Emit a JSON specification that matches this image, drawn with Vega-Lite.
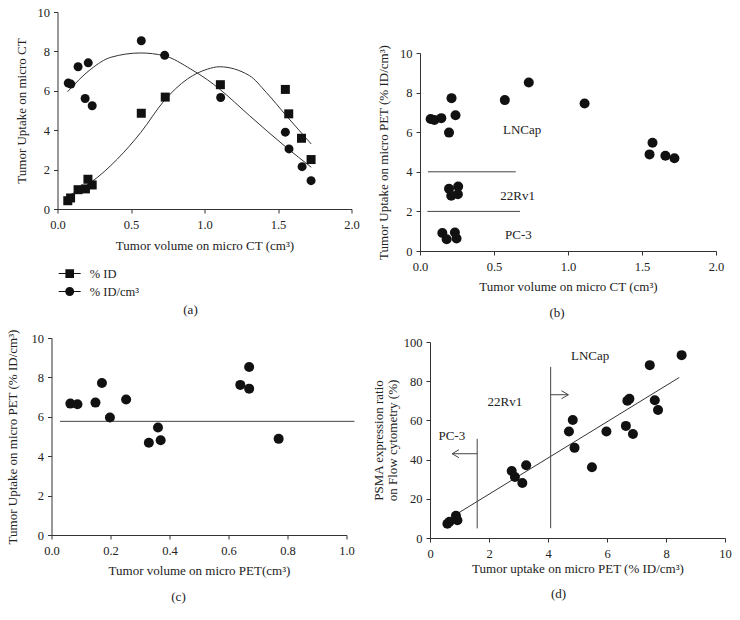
{
  "$schema": "https://vega.github.io/schema/vega-lite/v6.json",
  "autosize": {"type": "pad"},
  "padding": {"left": 5.5, "top": 6, "right": 5, "bottom": 5},
  "background": "white",
  "config": {
    "font": "Liberation Serif",
    "view": {"stroke": null},
    "concat": {"spacing": 0},
    "axis": {
      "grid": false, "labelFlush": false, "labelFont": "Liberation Serif", "titleFont": "Liberation Serif",
      "labelFontSize": 12.5, "titleFontSize": 13, "titleFontWeight": "normal",
      "domainColor": "#333", "tickColor": "#333", "labelColor": "#222", "titleColor": "#222",
      "tickSize": 4, "domainWidth": 1, "tickWidth": 1
    },
    "axisX": {"labelPadding": 5, "titlePadding": 8},
    "axisY": {"labelPadding": 4, "titlePadding": 12},
    "title": {"font": "Liberation Serif", "fontSize": 13, "fontWeight": "normal", "color": "#222", "orient": "bottom", "anchor": "middle"},
    "text": {"font": "Liberation Serif", "fontSize": 13, "color": "#222"}
  },
  "datasets": {
    "a_obs": [
      {"s":"% ID","x":0.07,"y":0.42},{"s":"% ID","x":0.089,"y":0.56},{"s":"% ID","x":0.14,"y":0.98},{"s":"% ID","x":0.19,"y":1.02},{"s":"% ID","x":0.207,"y":1.51},{"s":"% ID","x":0.236,"y":1.22},{"s":"% ID","x":0.57,"y":4.86},{"s":"% ID","x":0.733,"y":5.68},{"s":"% ID","x":1.108,"y":6.31},{"s":"% ID","x":1.55,"y":6.07},{"s":"% ID","x":1.573,"y":4.83},{"s":"% ID","x":1.66,"y":3.59},{"s":"% ID","x":1.725,"y":2.51},
      {"s":"% ID/cm³","x":0.073,"y":6.39},{"s":"% ID/cm³","x":0.091,"y":6.34},{"s":"% ID/cm³","x":0.14,"y":7.22},{"s":"% ID/cm³","x":0.209,"y":7.42},{"s":"% ID/cm³","x":0.188,"y":5.61},{"s":"% ID/cm³","x":0.236,"y":5.24},{"s":"% ID/cm³","x":0.57,"y":8.54},{"s":"% ID/cm³","x":0.729,"y":7.8},{"s":"% ID/cm³","x":1.11,"y":5.66},{"s":"% ID/cm³","x":1.55,"y":3.9},{"s":"% ID/cm³","x":1.575,"y":3.05},{"s":"% ID/cm³","x":1.664,"y":2.15},{"s":"% ID/cm³","x":1.725,"y":1.44}
    ],
    "a_fit": [
      {"s":"% ID/cm³","x":0.068,"y":5.95},{"s":"% ID/cm³","x":0.227,"y":7.1},{"s":"% ID/cm³","x":0.363,"y":7.7},{"s":"% ID/cm³","x":0.567,"y":7.92},{"s":"% ID/cm³","x":0.726,"y":7.78},{"s":"% ID/cm³","x":0.907,"y":7.1},{"s":"% ID/cm³","x":1.02,"y":6.56},{"s":"% ID/cm³","x":1.102,"y":6.09},{"s":"% ID/cm³","x":1.306,"y":4.74},{"s":"% ID/cm³","x":1.556,"y":3.13},{"s":"% ID/cm³","x":1.726,"y":2.12},
      {"s":"% ID","x":0.068,"y":0.65},{"s":"% ID","x":0.227,"y":1.35},{"s":"% ID","x":0.408,"y":2.54},{"s":"% ID","x":0.567,"y":3.89},{"s":"% ID","x":0.726,"y":5.5},{"s":"% ID","x":0.884,"y":6.6},{"s":"% ID","x":1.02,"y":7.1},{"s":"% ID","x":1.102,"y":7.22},{"s":"% ID","x":1.306,"y":6.77},{"s":"% ID","x":1.42,"y":5.92},{"s":"% ID","x":1.556,"y":4.74},{"s":"% ID","x":1.726,"y":3.3}
    ],
    "b_pts": [
      {"x":0.072,"y":6.67},{"x":0.097,"y":6.62},{"x":0.144,"y":6.71},{"x":0.213,"y":7.72},{"x":0.196,"y":5.98},{"x":0.24,"y":6.86},{"x":0.573,"y":7.62},{"x":0.735,"y":8.51},{"x":1.112,"y":7.45},{"x":1.551,"y":4.88},{"x":1.571,"y":5.47},{"x":1.658,"y":4.81},{"x":1.719,"y":4.68},
      {"x":0.196,"y":3.14},{"x":0.211,"y":2.79},{"x":0.258,"y":3.26},{"x":0.256,"y":2.87},
      {"x":0.151,"y":0.91},{"x":0.18,"y":0.59},{"x":0.236,"y":0.93},{"x":0.247,"y":0.63}
    ],
    "b_rules": [{"x":0.054,"x2":0.647,"y":4},{"x":0.05,"x2":0.676,"y":2}],
    "b_txt": [{"x":0.69,"y":6.11,"t":"LNCap"},{"x":0.66,"y":2.79,"t":"22Rv1"},{"x":0.665,"y":0.81,"t":"PC-3"}],
    "c_pts": [
      {"x":0.064,"y":6.67},{"x":0.088,"y":6.64},{"x":0.149,"y":6.72},{"x":0.171,"y":7.72},{"x":0.198,"y":5.96},{"x":0.253,"y":6.88},{"x":0.33,"y":4.68},{"x":0.361,"y":5.46},{"x":0.37,"y":4.81},{"x":0.64,"y":7.62},{"x":0.67,"y":8.53},{"x":0.67,"y":7.43},{"x":0.77,"y":4.88}
    ],
    "c_rule": [{"x":0.029,"x2":1.027,"y":5.77}],
    "d_pts": [
      {"x":0.59,"y":7.3},{"x":0.66,"y":8.3},{"x":0.88,"y":11.3},{"x":0.93,"y":9.1},
      {"x":2.77,"y":34.2},{"x":2.88,"y":31.1},{"x":3.13,"y":28.1},{"x":3.26,"y":37.1},
      {"x":4.71,"y":54.3},{"x":4.84,"y":60.2},{"x":4.9,"y":46},{"x":5.49,"y":36.1},{"x":5.98,"y":54.3},{"x":6.64,"y":57.2},{"x":6.69,"y":70},{"x":6.76,"y":71},{"x":6.88,"y":53.1},{"x":7.45,"y":88.2},{"x":7.62,"y":70.3},{"x":7.73,"y":65.3},{"x":8.53,"y":93.3}
    ],
    "d_fit": [{"x":0.75,"y":10.8},{"x":8.45,"y":81.9}],
    "d_vl": [{"x":1.6,"y":4.9,"y2":50.6},{"x":4.09,"y":5,"y2":87.3}],
    "d_arr": [{"x":1.6,"x2":0.75,"y":43,"dir":"left"},{"x":4.09,"x2":4.69,"y":73.1,"dir":"right"}],
    "d_txt": [{"x":0.74,"y":51.9,"t":"PC-3"},{"x":2.54,"y":69.2,"t":"22Rv1"},{"x":5.43,"y":92.9,"t":"LNCap"}]
  },
  "bounds": "full",
  "spacing": 12.5,
  "hconcat": [
    {
      "bounds": "full",
      "spacing": 12,
      "vconcat": [
        {
          "bounds": "flush",
          "spacing": 0,
          "hconcat": [
            {"width": 5.5, "height": 1, "data": {"values": [{"z": 1}]}, "mark": {"type": "point", "opacity": 0}},
            {
              "width": 294, "height": 197,
              "title": {"text": "(a)", "dx": -14, "offset": 51},
              "encoding": {
                "x": {"field": "x", "type": "quantitative", "scale": {"domain": [0, 2], "nice": false},
                      "axis": {"title": "Tumor volume on micro CT (cm³)", "values": [0, 0.5, 1, 1.5, 2], "format": ".1f", "titlePadding": 9}},
                "y": {"field": "y", "type": "quantitative", "scale": {"domain": [0, 10], "nice": false},
                      "axis": {"title": "Tumor Uptake on micro CT", "values": [0, 2, 4, 6, 8, 10], "titlePadding": 9}}
              },
              "layer": [
                {
                  "data": {"name": "a_fit"},
                  "mark": {"type": "line", "interpolate": "monotone", "color": "#333", "strokeWidth": 1},
                  "encoding": {"detail": {"field": "s"}}
                },
                {
                  "data": {"name": "a_obs"},
                  "transform": [{"filter": "datum.s === '% ID'"}],
                  "mark": {"type": "point", "shape": "square", "filled": true, "opacity": 1, "color": "#111", "size": 81}
                },
                {
                  "data": {"name": "a_obs"},
                  "transform": [{"filter": "datum.s !== '% ID'"}],
                  "mark": {"type": "point", "shape": "circle", "filled": true, "opacity": 1, "color": "#111", "size": 81}
                },
                {
                  "data": {"name": "a_obs"},
                  "mark": {"type": "point", "filled": true, "color": "#111", "opacity": 0},
                  "encoding": {
                    "shape": {
                      "field": "s", "type": "nominal",
                      "scale": {"domain": ["% ID", "% ID/cm³"], "range": ["M-1.22,-0.055H1.22V0.055H-1.22ZM-0.48,-0.48H0.48V0.48H-0.48Z", "M-1.22,-0.055H1.22V0.055H-1.22ZM0.5,0A0.5,0.5,0,1,1,-0.5,0A0.5,0.5,0,1,1,0.5,0Z"]},
                      "legend": {
                        "orient": "none", "legendX": 8.2, "legendY": 251.6, "direction": "vertical", "title": null,
                        "symbolSize": 324, "symbolOpacity": 1, "symbolFillColor": "#111",
                        "labelFont": "Liberation Serif", "labelFontSize": 12.5, "labelColor": "#222",
                        "labelOffset": 10, "rowPadding": 0
                      }
                    }
                  }
                }
              ]
            }
          ]
        },
        {
          "width": 295, "height": 197,
          "title": {"text": "(c)", "dx": -20.5, "offset": 13},
          "encoding": {
            "x": {"field": "x", "type": "quantitative", "scale": {"domain": [0, 1], "nice": false},
                  "axis": {"title": "Tumor volume on micro PET(cm³)", "values": [0, 0.2, 0.4, 0.6, 0.8, 1], "format": ".1f"}},
            "y": {"field": "y", "type": "quantitative", "scale": {"domain": [0, 10], "nice": false},
                  "axis": {"title": "Tumor Uptake on micro PET (% ID/cm³)", "values": [0, 2, 4, 6, 8, 10], "titlePadding": 12}}
          },
          "layer": [
            {
              "data": {"name": "c_rule"},
              "mark": {"type": "rule", "color": "#444", "strokeWidth": 1},
              "encoding": {"x2": {"field": "x2"}}
            },
            {
              "data": {"name": "c_pts"},
              "mark": {"type": "point", "shape": "circle", "filled": true, "opacity": 1, "color": "#111", "size": 100}
            }
          ]
        }
      ]
    },
    {
      "bounds": "full",
      "spacing": 0,
      "vconcat": [
        {"width": 1, "height": 32, "data": {"values": [{"z": 1}]}, "mark": {"type": "point", "opacity": 0}},
        {
          "width": 296, "height": 198,
          "title": {"text": "(b)", "dx": -11, "offset": 13},
          "encoding": {
            "x": {"field": "x", "type": "quantitative", "scale": {"domain": [0, 2], "nice": false},
                  "axis": {"title": "Tumor volume on micro CT (cm³)", "values": [0, 0.5, 1, 1.5, 2], "format": ".1f"}},
            "y": {"field": "y", "type": "quantitative", "scale": {"domain": [0, 10], "nice": false},
                  "axis": {"title": "Tumor Uptake on micro PET (% ID/cm³)", "values": [0, 2, 4, 6, 8, 10], "titlePadding": 9}}
          },
          "layer": [
            {
              "data": {"name": "b_rules"},
              "mark": {"type": "rule", "color": "#444", "strokeWidth": 1},
              "encoding": {"x2": {"field": "x2"}}
            },
            {
              "data": {"name": "b_pts"},
              "mark": {"type": "point", "shape": "circle", "filled": true, "opacity": 1, "color": "#111", "size": 100}
            },
            {
              "data": {"name": "b_txt"},
              "mark": {"type": "text", "align": "center", "baseline": "middle"},
              "encoding": {"text": {"field": "t"}}
            }
          ]
        },
        {"width": 1, "height": 16, "data": {"values": [{"z": 1}]}, "mark": {"type": "point", "opacity": 0}},
        {
          "bounds": "flush",
          "spacing": 0,
          "hconcat": [
            {"width": 10, "height": 1, "data": {"values": [{"z": 1}]}, "mark": {"type": "point", "opacity": 0}},
            {
              "width": 295, "height": 196,
              "title": {"text": "(d)", "dx": -19, "offset": 12},
              "encoding": {
                "x": {"field": "x", "type": "quantitative", "scale": {"domain": [0, 10], "nice": false},
                      "axis": {"title": "Tumor uptake on micro PET (% ID/cm³)", "values": [0, 2, 4, 6, 8, 10], "titlePadding": 3}},
                "y": {"field": "y", "type": "quantitative", "scale": {"domain": [0, 100], "nice": false},
                      "axis": {"title": ["PSMA expression ratio", "on Flow cytometry (%)"], "titleLineHeight": 14, "titlePadding": 4, "values": [0, 20, 40, 60, 80, 100]}}
              },
              "layer": [
                {
                  "data": {"name": "d_fit"},
                  "mark": {"type": "line", "color": "#333", "strokeWidth": 1}
                },
                {
                  "data": {"name": "d_vl"},
                  "mark": {"type": "rule", "color": "#444", "strokeWidth": 1},
                  "encoding": {"y2": {"field": "y2"}}
                },
                {
                  "data": {"name": "d_arr"},
                  "mark": {"type": "rule", "color": "#444", "strokeWidth": 1},
                  "encoding": {"x2": {"field": "x2"}}
                },
                {
                  "data": {"name": "d_arr"},
                  "transform": [{"filter": "datum.dir === 'left'"}],
                  "mark": {"type": "point", "shape": "M1.7,-1L0,0L1.7,1", "filled": false, "opacity": 1, "color": "#444", "strokeWidth": 1, "size": 64},
                  "encoding": {"x": {"field": "x2", "type": "quantitative"}}
                },
                {
                  "data": {"name": "d_arr"},
                  "transform": [{"filter": "datum.dir === 'right'"}],
                  "mark": {"type": "point", "shape": "M-1.7,-1L0,0L-1.7,1", "filled": false, "opacity": 1, "color": "#444", "strokeWidth": 1, "size": 64},
                  "encoding": {"x": {"field": "x2", "type": "quantitative"}}
                },
                {
                  "data": {"name": "d_pts"},
                  "mark": {"type": "point", "shape": "circle", "filled": true, "opacity": 1, "color": "#111", "size": 100}
                },
                {
                  "data": {"name": "d_txt"},
                  "mark": {"type": "text", "align": "center", "baseline": "middle"},
                  "encoding": {"text": {"field": "t"}}
                }
              ]
            }
          ]
        }
      ]
    }
  ]
}
